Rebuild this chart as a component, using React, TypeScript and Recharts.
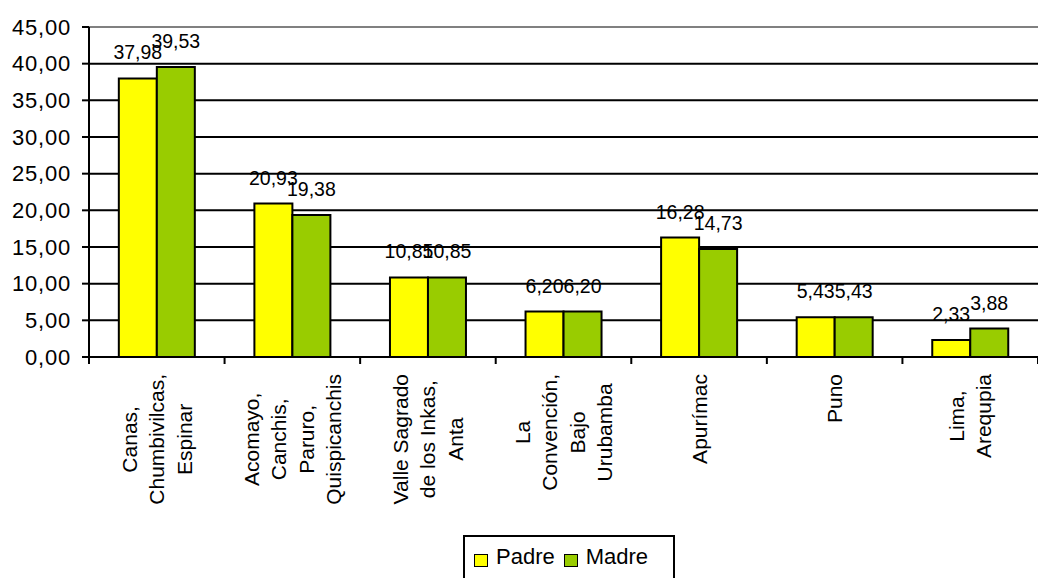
import React from "react";
import { BarChart, Bar, XAxis, YAxis, CartesianGrid, LabelList, Legend, ReferenceLine } from "recharts";

// Region names, one entry per line of the rotated axis label
const categoryLines: string[][] = [
  ["Canas,", "Chumbivilcas,", "Espinar"],
  ["Acomayo,", "Canchis,", "Paruro,", "Quispicanchis"],
  ["Valle Sagrado", "de los Inkas,", "Anta"],
  ["La", "Convención,", "Bajo", "Urubamba"],
  ["Apurímac"],
  ["Puno"],
  ["Lima,", "Arequpia"],
];

const padre: number[] = [37.98, 20.93, 10.85, 6.2, 16.28, 5.43, 2.33];
const madre: number[] = [39.53, 19.38, 10.85, 6.2, 14.73, 5.43, 3.88];

const yTicks: number[] = [0, 5, 10, 15, 20, 25, 30, 35, 40, 45];

const seriesDefs = [
  { key: "padre", name: "Padre", color: "#FFFF00" },
  { key: "madre", name: "Madre", color: "#99CC00" },
];

const data = categoryLines.map((lines, i) => ({
  name: lines.join(" "),
  padre: padre[i],
  madre: madre[i],
}));

const FONT = '"Liberation Sans", Arial, sans-serif';
const fmt = (v: number) => v.toFixed(2).replace(".", ",");

let measureCtx: CanvasRenderingContext2D | null = null;
const measure = (text: string, size: number) => {
  if (!measureCtx) measureCtx = document.createElement("canvas").getContext("2d");
  if (!measureCtx) return text.length * size * 0.5;
  measureCtx.font = `${size}px ${FONT}`;
  return measureCtx.measureText(text).width;
};

const CAT_FONT = 21;
const LINE_STEP = 27.3;
const X_AXIS_HEIGHT = 150;

const CategoryTick = (props: any) => {
  const { x, y, payload, index, visibleTicksCount } = props;
  const idx = payload?.index ?? index;
  const lines = categoryLines[idx] || [String(payload.value)];
  const half = payload?.offset ?? 67.8;
  const maxLen = Math.max(...lines.map((l) => measure(l, CAT_FONT)));
  const cy = y + 17 + maxLen / 2;
  const isLast = idx === (visibleTicksCount ?? categoryLines.length) - 1;
  return (
    <g>
      <line x1={x - half} x2={x - half} y1={y} y2={y + 7} stroke="#000" strokeWidth={2} />
      {isLast && <line x1={x + half} x2={x + half} y1={y} y2={y + 7} stroke="#000" strokeWidth={2} />}
      {lines.map((line, i) => {
        const lx = x + (i - (lines.length - 1) / 2) * LINE_STEP;
        return (
          <text
            key={i}
            x={lx}
            y={cy}
            transform={`rotate(-90, ${lx}, ${cy})`}
            textAnchor="middle"
            dominantBaseline="central"
            fontSize={CAT_FONT}
            fontFamily={FONT}
            fill="#000"
          >
            {line}
          </text>
        );
      })}
    </g>
  );
};

const LegendBox = () => (
  <div
    style={{
      boxSizing: "border-box",
      width: 212,
      height: 50,
      border: "2px solid #000",
      background: "#fff",
      display: "flex",
      alignItems: "flex-start",
      paddingTop: 7,
      paddingLeft: 9,
      fontFamily: FONT,
      fontSize: 22,
      color: "#000",
    }}
  >
    {seriesDefs.map((s) => (
      <div key={s.key} style={{ display: "flex", alignItems: "center", marginRight: 9 }}>
        <span
          style={{
            display: "inline-block",
            width: 12,
            height: 11,
            background: s.color,
            border: "1.5px solid #000",
            marginRight: 8,
            marginTop: 6,
          }}
        />
        <span>{s.name}</span>
      </div>
    ))}
  </div>
);

export default function App() {
  return (
    <div style={{ position: "absolute", left: 0, top: 0, width: 1038, height: 578, background: "#fff" }}>
      <BarChart
        width={1038}
        height={578}
        data={data}
        margin={{ top: 27, right: 0, bottom: 171 - X_AXIS_HEIGHT, left: 0 }}
        barCategoryGap="22%"
        barGap={0}
      >
        <CartesianGrid vertical={false} stroke="#000" strokeWidth={2} />
        <ReferenceLine y={45} stroke="#808080" strokeWidth={2} ifOverflow="extendDomain" />
        <XAxis
          dataKey="name"
          interval={0}
          tickLine={false}
          tickSize={0}
          tickMargin={0}
          axisLine={{ stroke: "#000", strokeWidth: 2 }}
          tick={<CategoryTick />}
          height={X_AXIS_HEIGHT}
        />
        <YAxis
          width={89}
          domain={[0, 45]}
          ticks={yTicks}
          interval={0}
          tickFormatter={fmt}
          tickSize={7}
          tickMargin={11}
          axisLine={{ stroke: "#000", strokeWidth: 2 }}
          tickLine={{ stroke: "#000", strokeWidth: 2 }}
          tick={{ fill: "#000", fontSize: 22, fontFamily: FONT, letterSpacing: 0.8 }}
        />
        <Legend
          verticalAlign="bottom"
          content={<LegendBox />}
          wrapperStyle={{ left: 463, top: 535, bottom: "auto", width: 212, height: 50 }}
        />
        {seriesDefs.map((s) => (
          <Bar
            key={s.key}
            dataKey={s.key}
            name={s.name}
            fill={s.color}
            stroke="#000"
            strokeWidth={2}
            isAnimationActive={false}
          >
            <LabelList
              dataKey={s.key}
              position="top"
              offset={19}
              formatter={(v: any) => fmt(Number(v))}
              style={{ fill: "#000", fontSize: 19.5, fontFamily: FONT }}
            />
          </Bar>
        ))}
      </BarChart>
    </div>
  );
}
